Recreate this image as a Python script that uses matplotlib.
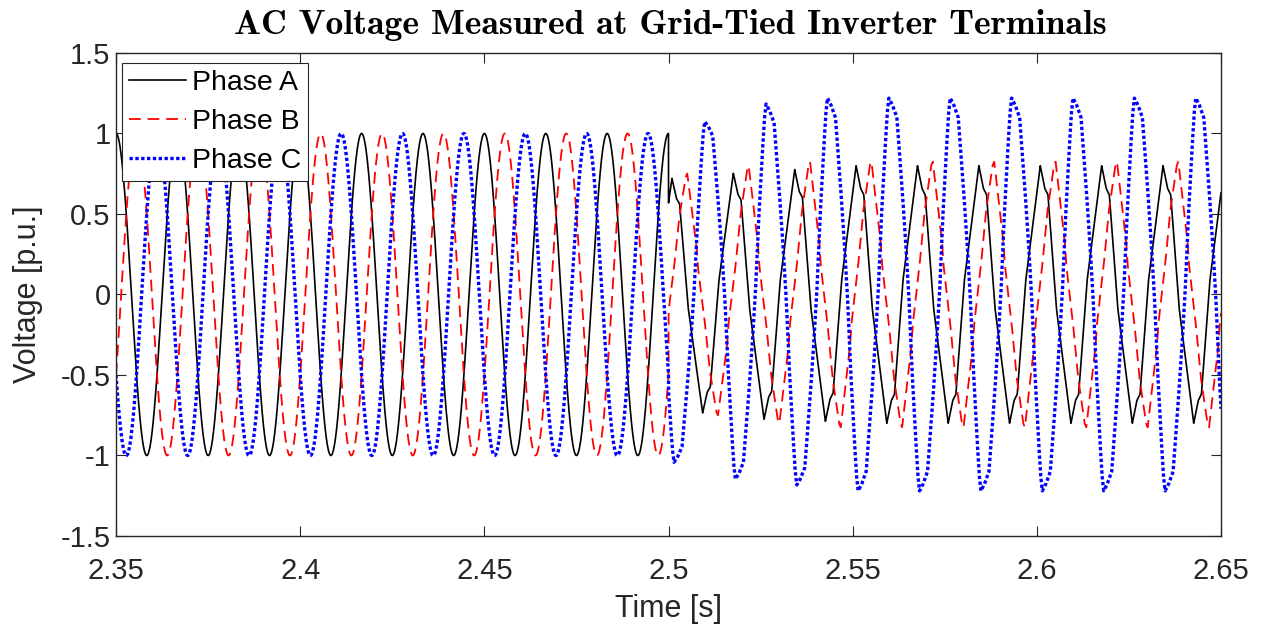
import os
import numpy as np
import matplotlib
matplotlib.use("Agg")
import matplotlib.pyplot as plt
from matplotlib.font_manager import FontProperties

# ---------------- data ----------------
T_START, T_END = 2.35, 2.65
T_FAULT = 2.50                      # disturbance instant [s]
FREQ = 60.0                         # grid frequency [Hz]

# pre-disturbance: balanced three-phase set
pre_amp = [1.0, 1.0, 1.0]
pre_phase_deg = [0.0, -120.0, 120.0]          # A, B, C

# post-disturbance: one half-cycle of each phase
# (angle after the phase's own peak in degrees, value in p.u.);
# the second half-cycle is the negative of the first (half-wave symmetry)
a_half_deg = [0, 26, 45, 94, 180]
a_half_val = [0.80, 0.66, 0.62, -0.08, -0.80]
a_peak_deg = 20.0

b_half_deg = [0, 19, 53, 62, 102, 131, 170, 180]
b_half_val = [0.825, 0.65, 0.34, 0.19, -0.18, -0.51, -0.80, -0.825]
b_peak_deg = 110.0

c_half_deg = [0, 20, 47, 75, 98, 117, 135, 155, 170, 180]
c_half_val = [1.22, 1.18, 1.10, 0.70, 0.34, 0.0, -0.45, -0.85, -1.12, -1.22]
c_peak_deg = 212.0

# start-up envelope after the disturbance (fraction of steady amplitude)
a_env_t = [2.500, 2.5095, 2.5173, 2.525, 2.535, 2.550]
a_env_v = [0.90, 0.92, 0.94, 0.97, 0.97, 1.00]
b_env_t = [2.500, 2.5051, 2.5134, 2.5218, 2.530, 2.538]
b_env_v = [0.91, 0.91, 0.91, 0.97, 0.97, 1.00]
c_env_t = [2.500, 2.5098, 2.518, 2.526, 2.535, 2.543]
c_env_v = [0.85, 0.88, 0.94, 0.97, 0.97, 1.00]

labels = ["Phase A", "Phase B", "Phase C"]
x_ticks = [2.35, 2.4, 2.45, 2.5, 2.55, 2.6, 2.65]
x_tick_labels = ["2.35", "2.4", "2.45", "2.5", "2.55", "2.6", "2.65"]
y_ticks = [-1.5, -1, -0.5, 0, 0.5, 1, 1.5]
y_tick_labels = ["-1.5", "-1", "-0.5", "0", "0.5", "1", "1.5"]

# ---------------- build the waveforms ----------------
t = np.linspace(T_START, T_END, 30001)
theta = 360.0 * FREQ * (t - T_START)          # 2.35 s is a whole number of cycles


def post_wave(half_deg, half_val, peak_deg):
    phi = np.mod(theta - peak_deg, 360.0)
    first = phi < 180.0
    out = np.empty_like(phi)
    out[first] = np.interp(phi[first], half_deg, half_val)
    out[~first] = -np.interp(phi[~first] - 180.0, half_deg, half_val)
    return out


posts = [
    post_wave(a_half_deg, a_half_val, a_peak_deg) * np.interp(t, a_env_t, a_env_v),
    post_wave(b_half_deg, b_half_val, b_peak_deg) * np.interp(t, b_env_t, b_env_v),
    post_wave(c_half_deg, c_half_val, c_peak_deg) * np.interp(t, c_env_t, c_env_v),
]
waves = []
for k in range(3):
    pre = pre_amp[k] * np.cos(np.deg2rad(theta + pre_phase_deg[k]))
    waves.append(np.where(t < T_FAULT, pre, posts[k]))

# ---------------- draw ----------------
plt.rcParams["font.family"] = ["Liberation Sans", "DejaVu Sans"]
fig = plt.figure(figsize=(12.67, 6.31), dpi=100)
ax = fig.add_axes([0.0916, 0.1506, 0.8721, 0.7654])

axc = "#262626"
ax.plot(t, waves[0], color="black", lw=1.2, label=labels[0])
ax.plot(t, waves[1], color="#ff0000", lw=1.3, dashes=(6.5, 3.8), label=labels[1])
ax.plot(t, waves[2], color="#0000ff", lw=2.4, dashes=(1.0, 0.75), label=labels[2])

ax.set_xlim(T_START, T_END)
ax.set_ylim(-1.5, 1.5)
ax.set_xticks(x_ticks)
ax.set_xticklabels(x_tick_labels)
ax.set_yticks(y_ticks)
ax.set_yticklabels(y_tick_labels)
ax.tick_params(direction="in", length=7, width=0.8, colors=axc, labelsize=21,
               top=True, right=True)
ax.tick_params(axis="x", pad=15)
ax.tick_params(axis="y", pad=4)
for s in ax.spines.values():
    s.set_color(axc)
    s.set_linewidth(1.0)

ax.set_xlabel("Time [s]", fontsize=22, color=axc)
ax.set_ylabel("Voltage [p.u.]", fontsize=22, color=axc)
ax.xaxis.set_label_coords(0.5, -0.12)
ax.yaxis.set_label_coords(-0.066, 0.5)

cmb = os.path.join(matplotlib.get_data_path(), "fonts", "ttf", "cmb10.ttf")
tfp = FontProperties(fname=cmb, size=25.7)
fig.text(0.529, 0.960, "AC Voltage Measured at Grid-Tied Inverter Terminals",
         fontproperties=tfp, ha="center", va="center", color="black")

leg = ax.legend(loc="upper left", bbox_to_anchor=(0.0054, 0.979), borderaxespad=0,
                fontsize=20.5, frameon=True, fancybox=False, handlelength=2.0,
                handletextpad=0.2, labelspacing=0.45, borderpad=0.25)
leg.get_frame().set_edgecolor(axc)
leg.get_frame().set_linewidth(0.8)
leg.get_frame().set_alpha(1)

fig.savefig("out.png", dpi=100, facecolor="white")
